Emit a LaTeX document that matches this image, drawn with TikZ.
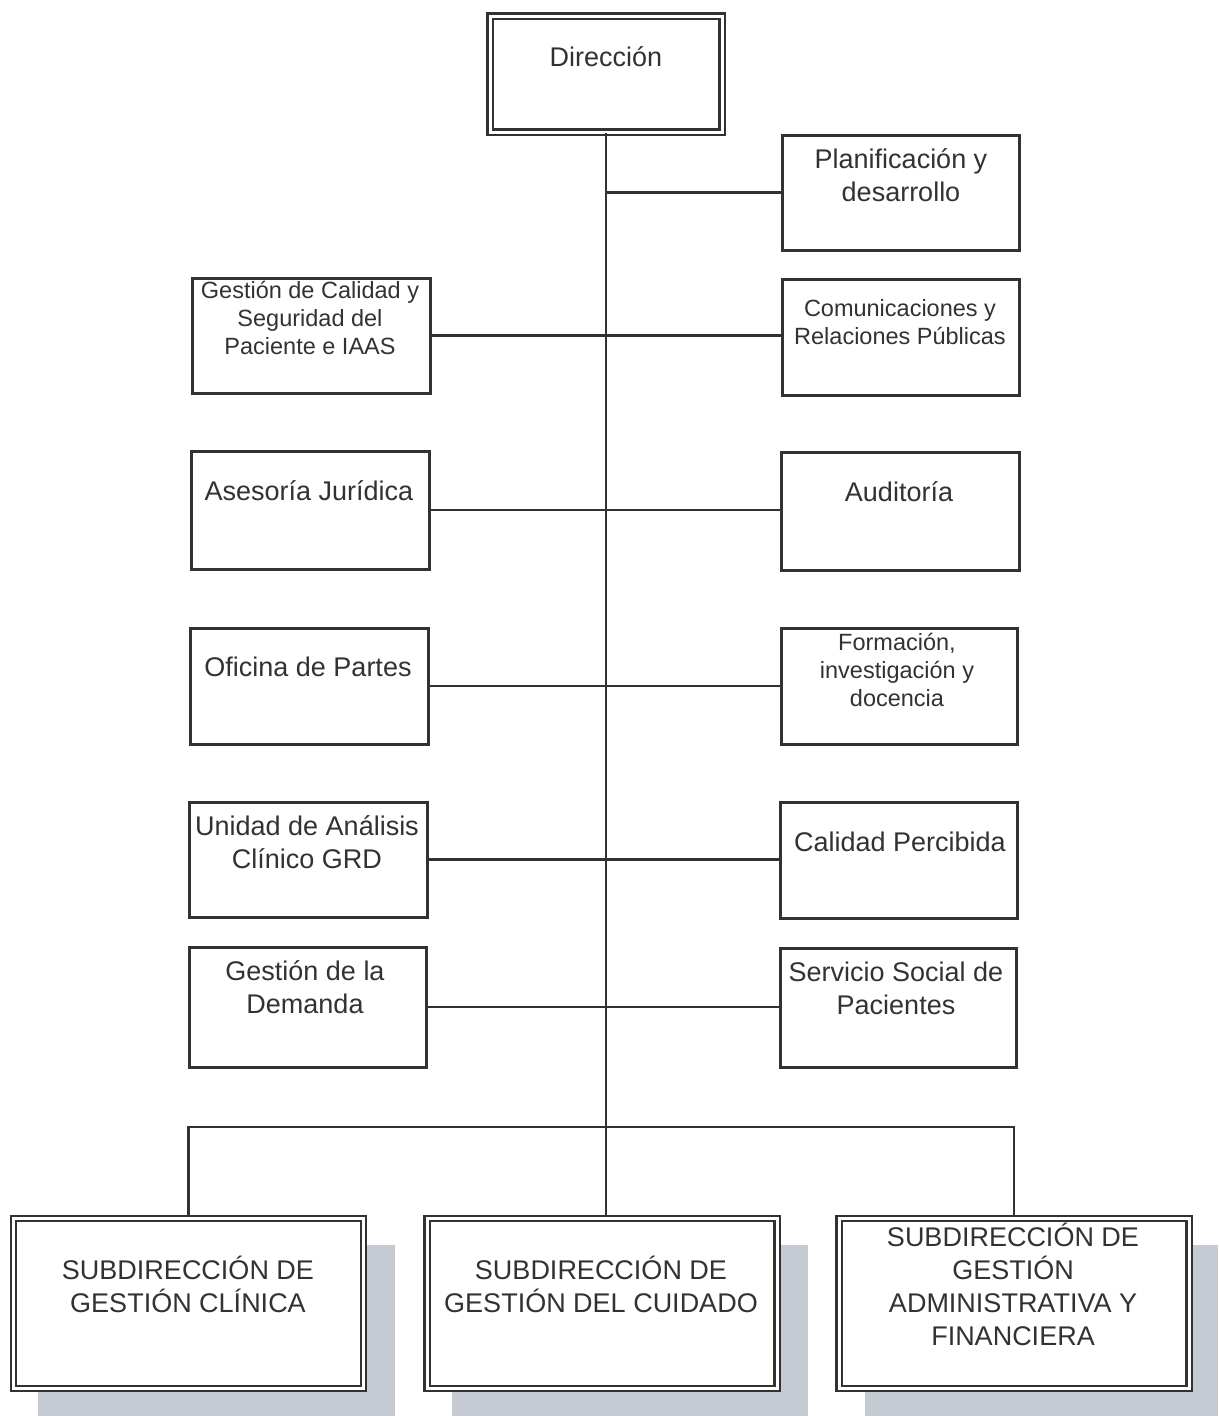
\documentclass[tikz,border=0pt]{standalone}
\usepackage{fontspec}
\setmainfont{Liberation Sans}
\definecolor{ink}{RGB}{50,50,50}
\definecolor{shadowgray}{RGB}{198,202,210}
\begin{document}
\begin{tikzpicture}[x=1pt,y=-1pt,
  box/.style={draw=ink,line width=3pt,fill=white,rectangle,inner sep=0pt},
  dbox/.style={draw=ink,double=white,double distance=3pt,line width=2.2pt,fill=white,rectangle,inner sep=0pt},
  big/.style={font=\fontsize{27}{33}\selectfont,text=ink,align=center,inner sep=0pt},
  small/.style={font=\fontsize{23.5}{28}\selectfont,text=ink,align=center,inner sep=0pt},
  conn/.style={draw=ink,line width=2.4pt}]
\useasboundingbox (0,0) rectangle (1218,1416);
\fill[white] (0,0) rectangle (1218,1416);
% shadows
\fill[shadowgray] (38,1245) rectangle (395,1416);
\fill[shadowgray] (452,1245) rectangle (808,1416);
\fill[shadowgray] (865,1245) rectangle (1218,1416);
% top
\node[dbox,minimum width=232,minimum height=116] (dir) at (606,74) {};
% right column
\node[box,minimum width=237,minimum height=115] (pd) at (900.5,192.5) {};
\node[box,minimum width=237,minimum height=116] (cr) at (900.5,337) {};
\node[box,minimum width=238,minimum height=118] (au) at (900,511) {};
\node[box,minimum width=236,minimum height=116] (fi) at (899,686) {};
\node[box,minimum width=237,minimum height=116] (cp) at (898.5,860) {};
\node[box,minimum width=236,minimum height=119] (ss) at (898,1007.5) {};
% left column
\node[box,minimum width=238,minimum height=115] (gc) at (311,335.5) {};
\node[box,minimum width=238,minimum height=118] (aj) at (310,510) {};
\node[box,minimum width=238,minimum height=116] (op) at (309,686) {};
\node[box,minimum width=238,minimum height=115] (ua) at (308,859.5) {};
\node[box,minimum width=237,minimum height=120] (gd) at (307.5,1007) {};
% bottom
\node[dbox,minimum width=350,minimum height=170] (s1) at (188.5,1303.5) {};
\node[dbox,minimum width=350,minimum height=170] (s2) at (602,1303.5) {};
\node[dbox,minimum width=350,minimum height=170] (s3) at (1014,1303.5) {};
% texts
\node[big] (tdir) at (606,57) {Dirección};
\node[big] (tpd) at (901,175) {Planificación y\\desarrollo};
\node[small] (tgc) at (310,318) {Gestión de Calidad y\\Seguridad del\\Paciente e IAAS};
\node[small] (tcr) at (900,322) {Comunicaciones y\\Relaciones Públicas};
\node[big] (taj) at (309,491) {Asesoría Jurídica};
\node[big] (tau) at (899,492) {Auditoría};
\node[big] (top) at (308,667) {Oficina de Partes};
\node[small] (tfi) at (897,670) {Formación,\\investigación y\\docencia};
\node[big] (tua) at (307,842) {Unidad de Análisis\\Clínico GRD};
\node[big] (tcp) at (900,842) {Calidad Percibida};
\node[big] (tgd) at (305,987) {Gestión de la\\Demanda};
\node[big] (tss) at (896,988) {Servicio Social de\\Pacientes};
\node[big] (ts1) at (188,1284) {SUBDIRECCIÓN DE\\GESTIÓN CLÍNICA};
\node[big] (ts2) at (601,1284) {SUBDIRECCIÓN DE\\GESTIÓN DEL CUIDADO};
\node[big] (ts3) at (1013,1284) {SUBDIRECCIÓN DE\\GESTIÓN\\ADMINISTRATIVA Y\\FINANCIERA};
% connectors
\coordinate (bus) at (606,1127);
\draw[conn] (dir.south) -- (dir.south |- s2.north);
\draw[conn] (dir.south |- pd.west) -- (pd.west);
\draw[conn] (gc.east) -- (gc.east -| cr.west);
\draw[conn] (aj.east) -- (aj.east -| au.west);
\draw[conn] (op.east) -- (op.east -| fi.west);
\draw[conn] (ua.east) -- (ua.east -| cp.west);
\draw[conn] (gd.east) -- (gd.east -| ss.west);
\draw[conn] (s1.north) -- (s1.north |- bus) -- (s3.north |- bus) -- (s3.north);
\end{tikzpicture}
\end{document}
